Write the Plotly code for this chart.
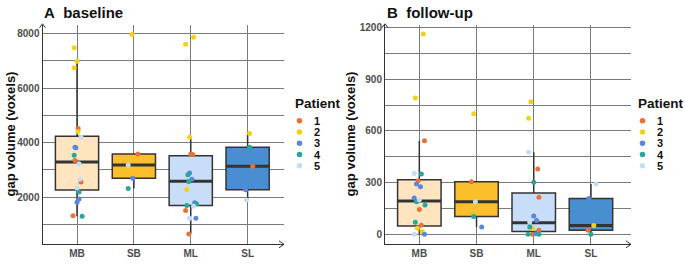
import plotly.graph_objects as go

W, H = 685, 274

categories = ["MB", "SB", "ML", "SL"]
box_fill = ["#FEE5BF", "#FCBF2C", "#C8DDF8", "#4A8ED2"]
patients = ["1", "2", "3", "4", "5"]
patient_colors = ["#E8713A", "#F5D116", "#5B86DB", "#27A69A", "#C4DDF5"]

# ---- baseline box statistics ----
base_q1 = [2266, 2698, 1701, 2277]
base_med = [3296, 3187, 2590, 3140]
base_q3 = [4232, 3583, 3525, 3834]
base_lo = [1305, 2324, 658, 1906]
base_hi = [6980, 3583, 4195, 4338]

# ---- baseline points: category index, patient, value, jitter (category units) ----
base_cat = [0]*19 + [1]*5 + [2]*18 + [3]*5
base_pat = [2, 2, 2, 2, 1, 1, 1, 1, 3, 3, 3, 3, 4, 4, 4, 5, 5, 5, 5,
            2, 1, 5, 3, 4,
            2, 2, 2, 2, 1, 1, 1, 1, 3, 3, 3, 3, 4, 4, 4, 4, 5, 5,
            2, 4, 1, 3, 5]
base_val = [7470, 6980, 6740, 4400, 4520, 3345, 2565, 1330, 3830, 3810, 1940, 1820,
            3540, 2195, 1305, 4195, 3225, 2660, 2340,
            7960, 3583, 3187, 2698, 2324,
            7600, 7862, 4195, 2288, 3583, 3565, 1522, 658, 2888, 2660, 1798, 1234,
            2827, 2576, 1762, 1701, 1676, 1234,
            4338, 3834, 3140, 2277, 1906]
base_jit = [-0.05, 0.0, -0.05, 0.02, 0.02, -0.035, 0.07, -0.07, -0.035, -0.02, 0.035, 0.0,
            -0.05, 0.035, 0.09, 0.07, 0.035, 0.05, 0.0,
            -0.035, 0.07, -0.1, -0.02, -0.1,
            -0.09, 0.05, -0.02, -0.07, 0.0, 0.035, -0.09, -0.035, -0.02, 0.02, 0.07, 0.09,
            -0.05, -0.035, 0.1, -0.07, 0.05, -0.02,
            0.035, 0.035, 0.09, -0.035, -0.02]

# ---- follow-up box statistics ----
fu_q1 = [48, 103, 15, 23]
fu_med = [193, 188, 67, 50]
fu_q3 = [317, 304, 239, 208]
fu_lo = [0, 42, 0, 0]
fu_hi = [543, 304, 476, 291]

# ---- follow-up points ----
fu_cat = [0]*19 + [1]*5 + [2]*17 + [3]*5
fu_pat = [2, 2, 1, 5, 4, 1, 3, 3, 3, 5, 4, 4, 1, 4, 1, 2, 2, 5, 3,
          1, 5, 4, 3, 2,
          2, 2, 5, 1, 4, 1, 3, 3, 5, 4, 2, 2, 1, 4, 1, 4, 3,
          5, 3, 2, 1, 4]
fu_val = [1164, 792, 543, 352, 350, 310, 291, 275, 210, 200, 189, 170, 143, 69, 52, 34, 15, 0, 0,
          304, 188, 103, 42, 700,
          673, 769, 476, 379, 302, 214, 105, 80, 71, 42, 38, 33, 23, 0, 0, 0, 2,
          291, 208, 50, 23, 0]
fu_jit = [0.07, -0.07, 0.09, -0.09, 0.035, -0.02, -0.05, 0.02, -0.09, 0.0, -0.05, 0.1, 0.0,
          -0.07, 0.035, -0.035, 0.05, -0.09, 0.09,
          -0.09, -0.02, -0.05, 0.09, -0.05,
          -0.09, -0.05, -0.09, 0.07, 0.0, 0.09, 0.0, 0.05, -0.07, -0.07, -0.05, -0.02, 0.09,
          -0.1, -0.02, 0.09, 0.035,
          0.09, -0.035, 0.05, -0.05, 0.0]

BOX_W = 0.76
INK = "#333333"
GRID = "#7a7a7a"

fig = go.Figure()


def add_panel(xa, ya, q1, med, q3, lo, hi, cats, pats, vals, jit):
    for i, c in enumerate(categories):
        fig.add_trace(go.Box(
            x=[i], q1=[q1[i]], median=[med[i]], q3=[q3[i]],
            lowerfence=[lo[i]], upperfence=[hi[i]],
            width=BOX_W, whiskerwidth=0, fillcolor=box_fill[i],
            line=dict(color=INK, width=1.5), boxpoints=False,
            xaxis=xa, yaxis=ya, showlegend=False, hoverinfo="skip"))
        fig.add_trace(go.Scatter(
            x=[i - BOX_W / 2, i + BOX_W / 2], y=[med[i], med[i]], mode="lines",
            line=dict(color=INK, width=3), xaxis=xa, yaxis=ya,
            showlegend=False, hoverinfo="skip"))
    for p_idx, p in enumerate(patients):
        xs, ys = [], []
        for c, pt, v, j in zip(cats, pats, vals, jit):
            if str(pt) == p:
                xs.append(c + j)
                ys.append(v)
        fig.add_trace(go.Scatter(
            x=xs, y=ys, mode="markers",
            marker=dict(size=5, color=patient_colors[p_idx], line=dict(width=0)),
            xaxis=xa, yaxis=ya, showlegend=False, hoverinfo="skip"))


add_panel("x", "y", base_q1, base_med, base_q3, base_lo, base_hi,
          base_cat, base_pat, base_val, base_jit)
add_panel("x2", "y2", fu_q1, fu_med, fu_q3, fu_lo, fu_hi,
          fu_cat, fu_pat, fu_val, fu_jit)


def px_x(p):
    return p / W


def px_y(p):
    return 1 - p / H


tickfont = dict(family="Liberation Sans, Arial", size=10, color="#4d4d4d", weight="bold")
common_x = dict(tickvals=list(range(4)), ticktext=categories, showgrid=True,
                gridcolor=GRID, gridwidth=1, zeroline=False, showline=True,
                linecolor=INK, linewidth=1, ticks="", tickfont=tickfont)
common_y = dict(showgrid=True, gridcolor=GRID, gridwidth=1, zeroline=False,
                showline=True, linecolor=INK, linewidth=1, ticks="",
                tickfont=tickfont)

yd = [px_y(244), px_y(22)]
fig.update_layout(
    width=W, height=H, margin=dict(l=0, r=0, t=0, b=0),
    paper_bgcolor="white", plot_bgcolor="white",
    xaxis=dict(domain=[px_x(42.5), px_x(284)], range=[-0.607, 3.64], anchor="y", **common_x),
    yaxis=dict(domain=yd, range=[280, 8315], anchor="x", tickvals=[2000, 4000, 6000, 8000],
               minor=dict(tickvals=[1000, 3000, 5000, 7000], showgrid=True,
                          gridcolor=GRID, gridwidth=1, ticks=""),
               **common_y),
    xaxis2=dict(domain=[px_x(385), px_x(631)], range=[-0.6, 3.7], anchor="y2", **common_x),
    yaxis2=dict(domain=yd, range=[-59, 1217], anchor="x2", tickvals=[0, 300, 600, 900, 1200],
                minor=dict(tickvals=[150, 450, 750, 1050], showgrid=True,
                           gridcolor=GRID, gridwidth=1, ticks=""),
                **common_y),
)

annotations = []
shapes = []
font_b = "Liberation Sans, Arial"

# panel titles
for txt, x0 in [("A\u00a0\u00a0baseline", 42), ("B\u00a0\u00a0follow-up", 385)]:
    annotations.append(dict(text=txt, x=px_x(x0), y=px_y(10), xref="paper", yref="paper",
                            xanchor="left", yanchor="middle", showarrow=False,
                            font=dict(family=font_b, size=15, color="#111", weight="bold")))
# y axis titles
for xc in [11, 351]:
    annotations.append(dict(text="gap volume (voxels)", x=px_x(xc), y=px_y(133),
                            xref="paper", yref="paper", xanchor="center", yanchor="middle",
                            textangle=-90, showarrow=False,
                            font=dict(family=font_b, size=13, color="#111", weight="bold")))

# legends
for lx in [293, 636]:
    annotations.append(dict(text="Patient", x=px_x(lx), y=px_y(102), xref="paper", yref="paper",
                            xanchor="left", yanchor="middle", showarrow=False,
                            font=dict(family=font_b, size=13.5, color="#111", weight="bold")))
    for k, p in enumerate(patients):
        yy = 119 + k * 11.4
        annotations.append(dict(text=p, x=px_x(lx + 19), y=px_y(yy), xref="paper", yref="paper",
                                xanchor="left", yanchor="middle", showarrow=False,
                                font=dict(family=font_b, size=11, color="#111", weight="bold")))
        cx = lx + 6.5
        r = 2.8
        shapes.append(dict(type="circle", xref="paper", yref="paper",
                           x0=px_x(cx - r), x1=px_x(cx + r), y0=px_y(yy + r), y1=px_y(yy - r),
                           fillcolor=patient_colors[k], line=dict(width=0)))

# axis arrow heads
for ax0, ax1 in [(42.5, 284), (385, 631)]:
    shapes.append(dict(type="path", xref="paper", yref="paper",
                       path=f"M {px_x(ax1-5)},{px_y(240.5)} L {px_x(ax1)},{px_y(244)} L {px_x(ax1-5)},{px_y(247.5)}",
                       line=dict(color=INK, width=1)))
    shapes.append(dict(type="path", xref="paper", yref="paper",
                       path=f"M {px_x(ax0-3)},{px_y(25)} L {px_x(ax0)},{px_y(21)} L {px_x(ax0+3)},{px_y(25)}",
                       line=dict(color=INK, width=1)))

fig.update_layout(annotations=annotations, shapes=shapes)
fig.write_html("out.html")
